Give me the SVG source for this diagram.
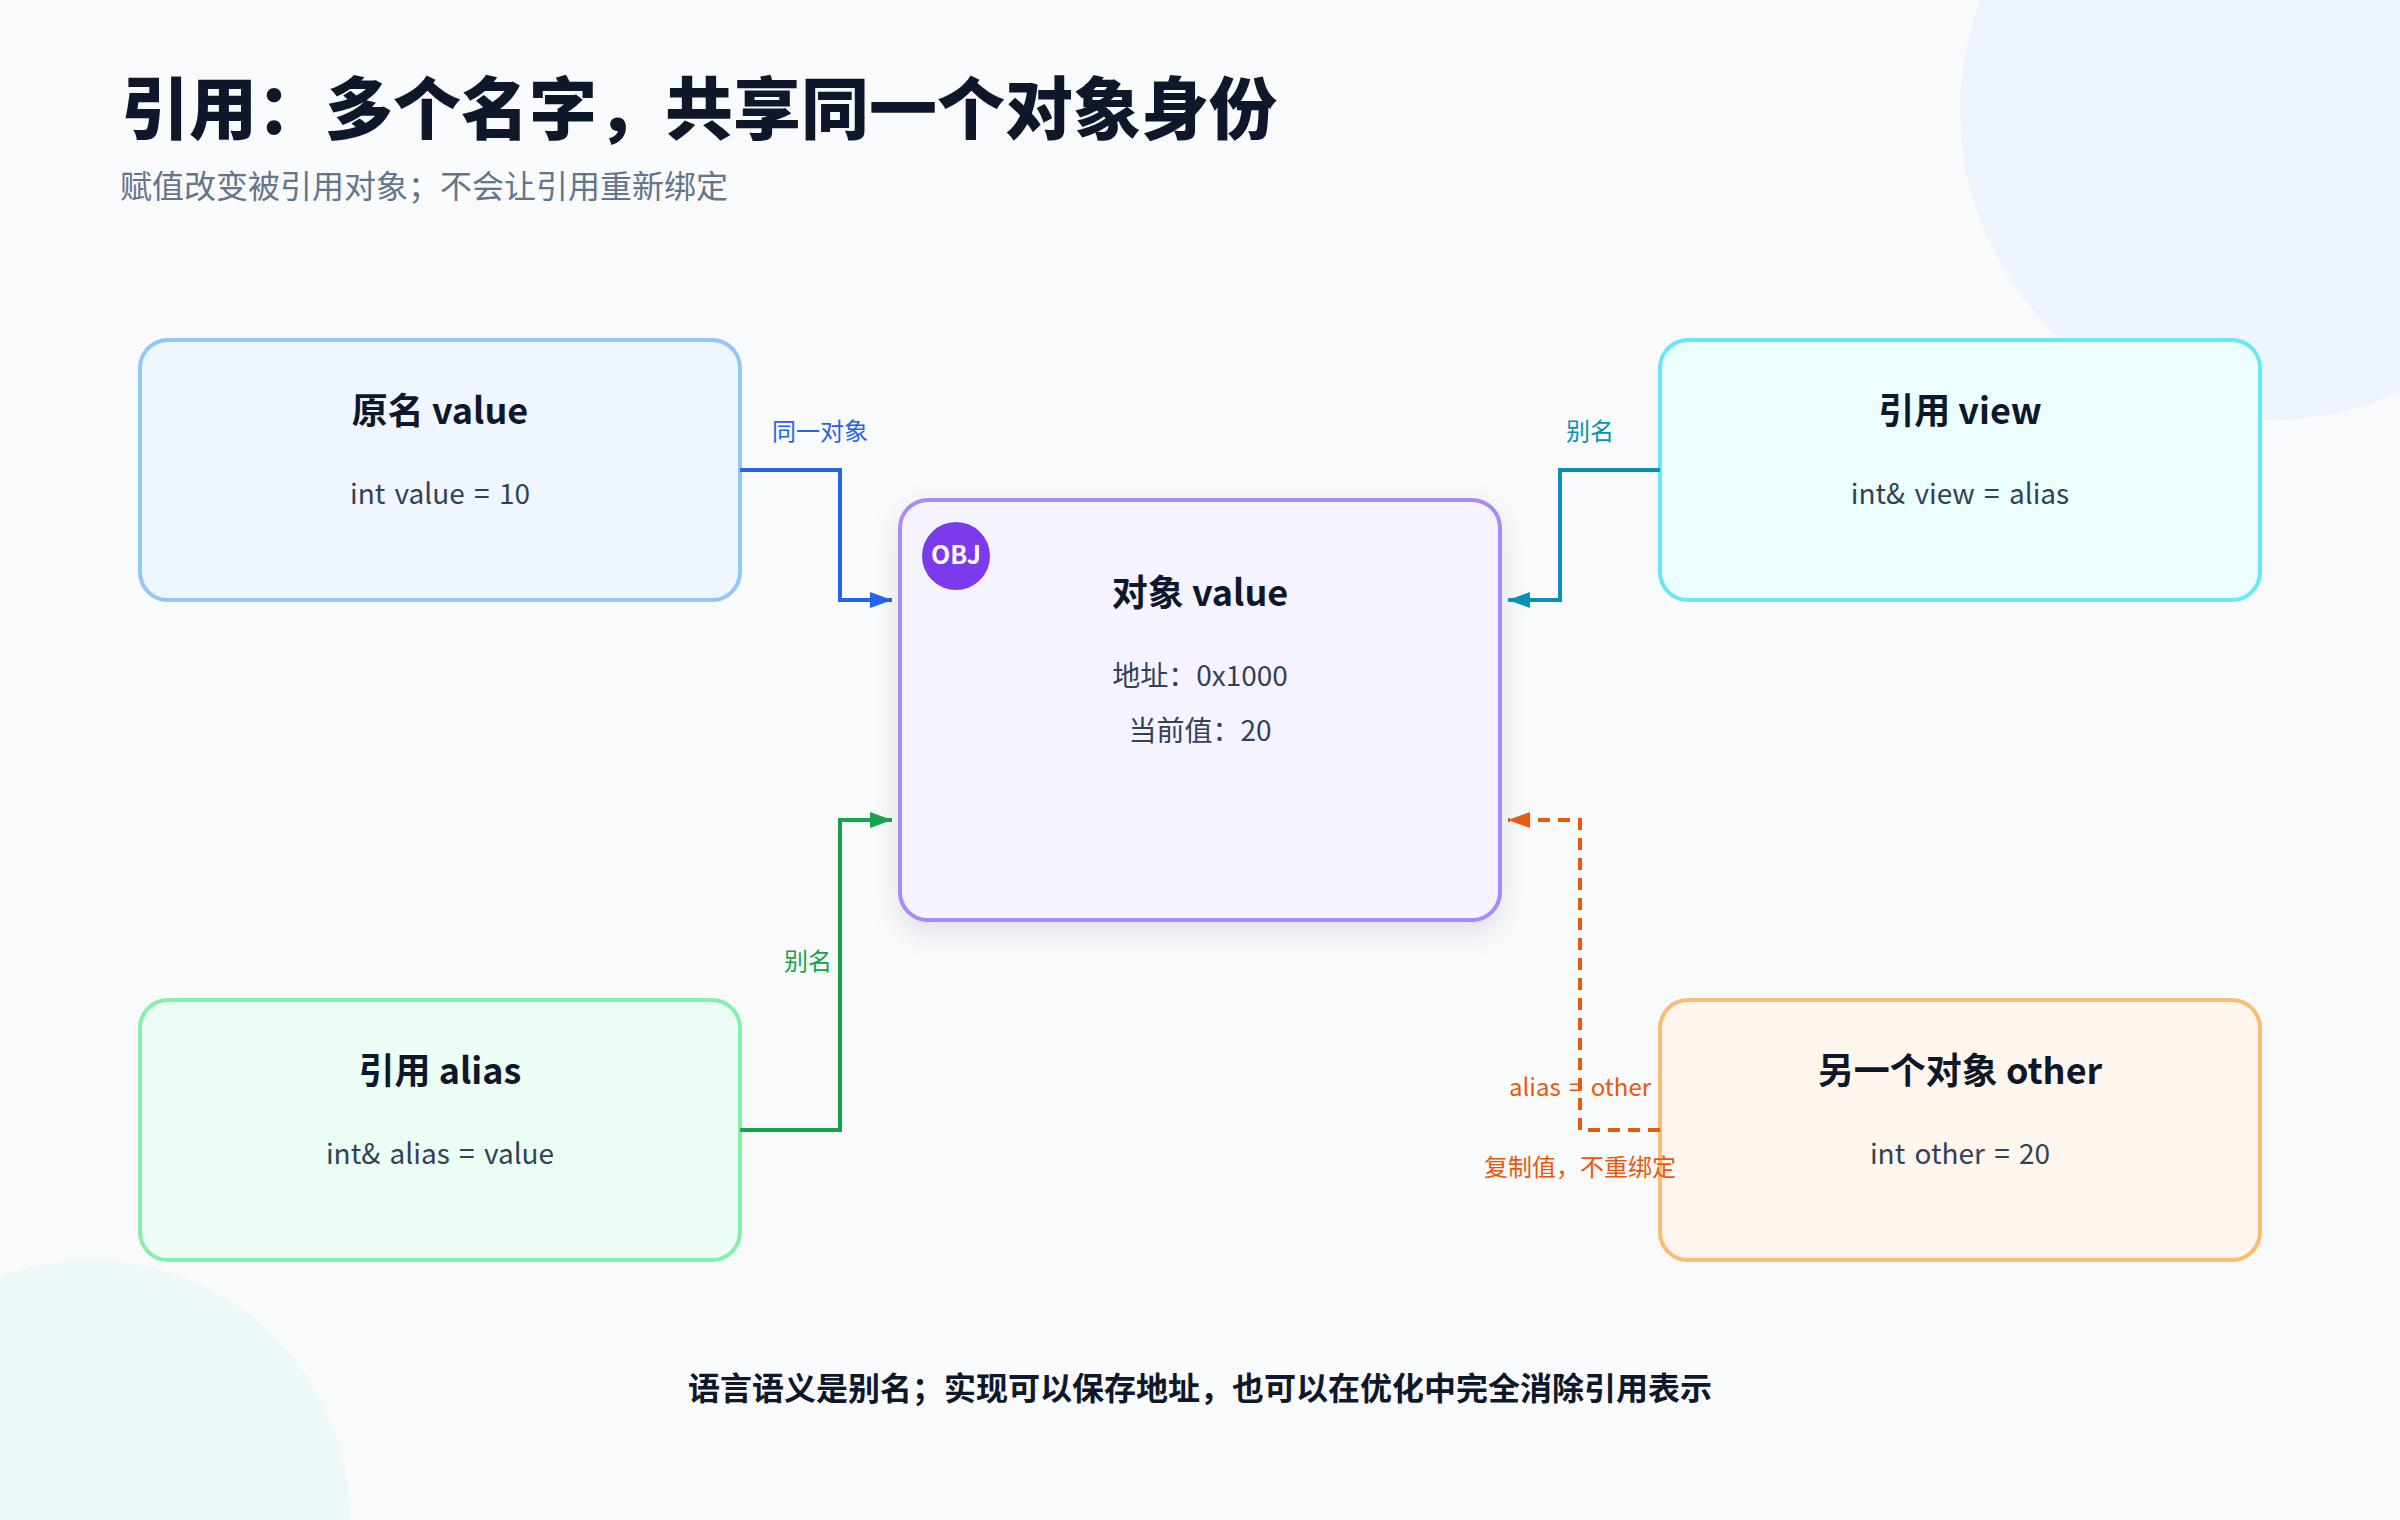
<svg xmlns="http://www.w3.org/2000/svg" width="2400" height="1520" viewBox="0 0 2400 1520">
  <defs>
    <style>
      text { font-family: "Noto Sans CJK SC", "Noto Sans", "Liberation Sans", sans-serif; }
      .title { font-size: 68px; font-weight: 900; fill: #0f172a; }
      .subtitle { font-size: 32px; fill: #64748b; }
      .ntitle { font-size: 36px; font-weight: 700; fill: #0f172a; text-anchor: middle; }
      .nbody { font-size: 28px; fill: #334155; text-anchor: middle; word-spacing: 3px; }
      .lbl { font-size: 24px; text-anchor: middle; word-spacing: 3px; }
      .footer { font-size: 32px; font-weight: 700; fill: #0f172a; text-anchor: middle; }
      .box { stroke-width: 4; }
      .conn { fill: none; stroke-width: 4; stroke-linejoin: miter; }
    </style>
    <filter id="shadow" x="-20%" y="-20%" width="140%" height="150%">
      <feDropShadow dx="0" dy="10" stdDeviation="14" flood-color="#0f172a" flood-opacity="0.10"/>
    </filter>
    <marker id="ah-blue" markerUnits="userSpaceOnUse" markerWidth="22" markerHeight="16" refX="22" refY="8" orient="auto">
      <path d="M0,0 L22,8 L0,16 Z" fill="#2563eb"/>
    </marker>
    <marker id="ah-teal" markerUnits="userSpaceOnUse" markerWidth="22" markerHeight="16" refX="22" refY="8" orient="auto">
      <path d="M0,0 L22,8 L0,16 Z" fill="#0891b2"/>
    </marker>
    <marker id="ah-green" markerUnits="userSpaceOnUse" markerWidth="22" markerHeight="16" refX="22" refY="8" orient="auto">
      <path d="M0,0 L22,8 L0,16 Z" fill="#16a34a"/>
    </marker>
    <marker id="ah-orange" markerUnits="userSpaceOnUse" markerWidth="22" markerHeight="16" refX="22" refY="8" orient="auto">
      <path d="M0,0 L22,8 L0,16 Z" fill="#ea580c"/>
    </marker>
  </defs>

  <rect x="0" y="0" width="2400" height="1520" fill="#f8fafc"/>
  <circle cx="2270" cy="110" r="310" fill="#edf4fe"/>
  <circle cx="90" cy="1520" r="260" fill="#edf9f8"/>

  <text class="title" x="121" y="134">引用：多个名字，共享同一个对象身份</text>
  <text class="subtitle" x="120" y="198">赋值改变被引用对象；不会让引用重新绑定</text>

  <g id="node-value">
    <rect class="box" x="140" y="340" width="600" height="260" rx="28" fill="#eff6ff" stroke="#93c5fd"/>
    <text class="ntitle" x="440" y="424">原名 value</text>
    <text class="nbody" x="440" y="504">int value = 10</text>
  </g>

  <g id="node-view">
    <rect class="box" x="1660" y="340" width="600" height="260" rx="28" fill="#ecfeff" stroke="#67e8f9"/>
    <text class="ntitle" x="1960" y="424">引用 view</text>
    <text class="nbody" x="1960" y="504">int&amp; view = alias</text>
  </g>

  <g id="node-object">
    <rect class="box" x="900" y="500" width="600" height="420" rx="28" fill="#f5f3ff" stroke="#a78bfa" filter="url(#shadow)"/>
    <circle cx="956" cy="556" r="34" fill="#7c3aed"/>
    <text x="956" y="564" font-size="25" font-weight="700" fill="#ffffff" text-anchor="middle">OBJ</text>
    <text class="ntitle" x="1200" y="606">对象 value</text>
    <text class="nbody" x="1200" y="686">地址：0x1000</text>
    <text class="nbody" x="1200" y="741">当前值：20</text>
  </g>

  <g id="node-alias">
    <rect class="box" x="140" y="1000" width="600" height="260" rx="28" fill="#ecfdf5" stroke="#86efac"/>
    <text class="ntitle" x="440" y="1084">引用 alias</text>
    <text class="nbody" x="440" y="1164">int&amp; alias = value</text>
  </g>

  <g id="node-other">
    <rect class="box" x="1660" y="1000" width="600" height="260" rx="28" fill="#fff7ed" stroke="#fdba74"/>
    <text class="ntitle" x="1960" y="1084">另一个对象 other</text>
    <text class="nbody" x="1960" y="1164">int other = 20</text>
  </g>

  <g id="connectors">
    <path class="conn" d="M740 470 H840 V600 H892" stroke="#2563eb" marker-end="url(#ah-blue)"/>
    <text class="lbl" x="820" y="440" fill="#2563eb">同一对象</text>
    <path class="conn" d="M1660 470 H1560 V600 H1508" stroke="#0891b2" marker-end="url(#ah-teal)"/>
    <text class="lbl" x="1590" y="440" fill="#0891b2">别名</text>
    <path class="conn" d="M740 1130 H840 V820 H892" stroke="#16a34a" marker-end="url(#ah-green)"/>
    <text class="lbl" x="832" y="970" fill="#16a34a" style="text-anchor:end">别名</text>
    <path class="conn" d="M1660 1130 H1580 V820 H1508" stroke="#ea580c" stroke-dasharray="12 8" marker-end="url(#ah-orange)"/>
    <text class="lbl" x="1580" y="1096" fill="#ea580c">alias = other</text>
    <text class="lbl" x="1580" y="1176" fill="#ea580c">复制值，不重绑定</text>
  </g>

  <text class="footer" x="1200" y="1400">语言语义是别名；实现可以保存地址，也可以在优化中完全消除引用表示</text>
</svg>
